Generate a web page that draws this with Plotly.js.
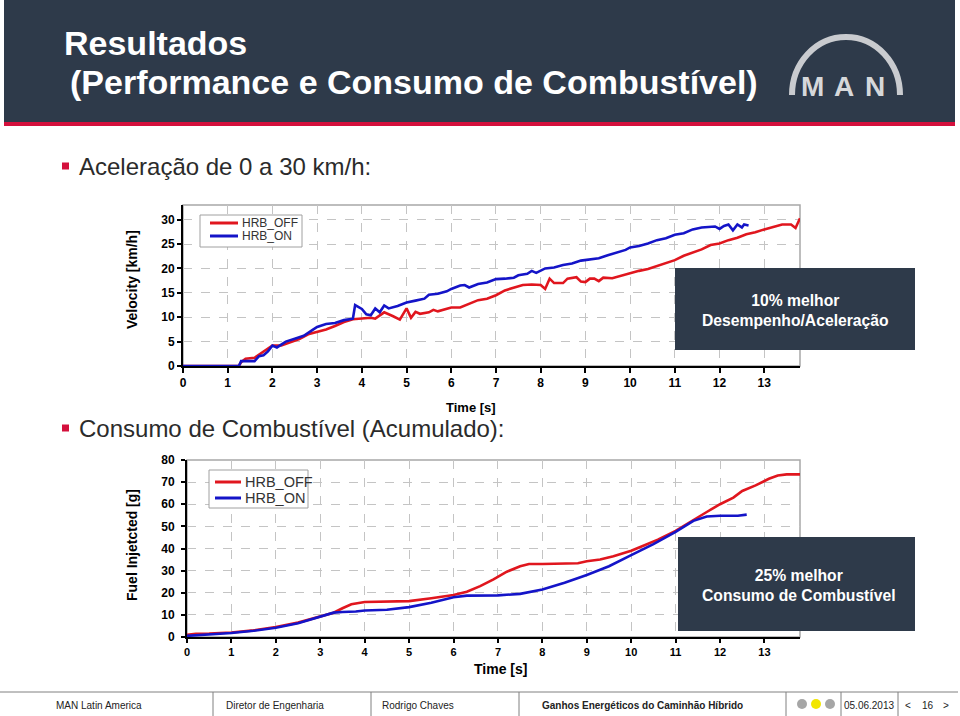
<!DOCTYPE html>
<html>
<head>
<meta charset="utf-8">
<script src="https://cdn.plot.ly/plotly-3.0.1.min.js"></script>
<style>html,body{margin:0;padding:0;background:#fff;}#chart{width:960px;height:716px;}</style>
</head>
<body>
<div id="chart"></div>
<script>
// ---- Data: Velocity (km/h) vs time (s)
const velTimeOff = [0,1.25,1.3,1.4,1.6,1.8,2.0,2.2,2.4,2.6,
  2.8,3.0,3.2,3.4,3.6,3.8,4.0,4.2,4.3,4.5,
  4.7,4.85,5.0,5.1,5.2,5.3,5.5,5.6,5.7,5.9,
  6.0,6.2,6.4,6.6,6.8,7.0,7.2,7.4,7.6,7.8,
  8.0,8.1,8.2,8.3,8.5,8.6,8.8,8.9,9.0,9.1,
  9.2,9.3,9.4,9.6,9.8,10.0,10.2,10.4,10.6,10.8,
  11.0,11.2,11.4,11.6,11.8,12.0,12.2,12.4,12.6,12.8,
  13.0,13.2,13.4,13.6,13.7,13.8];
const velOff = [0,0,0.8,1.5,1.7,2.9,4.2,4.2,4.8,5.5,
  6.5,7.0,7.5,8.2,9.0,9.6,9.8,9.9,9.7,11.0,
  10.2,9.5,11.8,9.9,11.1,10.7,11.0,11.5,11.2,11.8,
  12.0,12.0,12.7,13.5,13.8,14.5,15.5,16.0,16.6,16.7,
  16.6,15.8,17.9,17.0,17.0,17.9,18.2,17.3,17.2,17.9,
  17.9,17.4,18.1,18.0,18.5,19.1,19.5,19.9,20.5,21.2,
  21.7,22.6,23.3,23.9,24.8,25.1,25.8,26.3,27.0,27.4,
  28.0,28.5,29.0,29.0,28.3,30.3];
const velTimeOn = [0,1.25,1.3,1.5,1.6,1.7,1.8,1.9,2.0,2.1,
  2.2,2.3,2.5,2.7,2.9,3.0,3.2,3.4,3.6,3.8,
  3.85,4.0,4.1,4.2,4.3,4.4,4.5,4.6,4.8,5.0,
  5.2,5.4,5.5,5.7,5.9,6.0,6.2,6.3,6.4,6.6,
  6.8,7.0,7.2,7.4,7.5,7.7,7.8,7.9,8.1,8.3,
  8.5,8.7,8.9,9.1,9.3,9.5,9.7,9.9,10.0,10.2,
  10.4,10.6,10.8,11.0,11.2,11.4,11.6,11.8,11.9,12.0,
  12.1,12.2,12.3,12.4,12.5,12.55,12.65];
const velOn = [0,0,1.0,1.0,1.0,2.0,2.2,3.0,4.2,3.8,
  4.4,5.0,5.6,6.2,7.4,8.0,8.6,8.8,9.4,9.7,
  12.5,11.7,10.6,10.4,11.8,11.0,12.4,11.8,12.3,13.0,
  13.4,13.8,14.6,14.8,15.3,15.8,16.5,16.6,16.1,16.8,
  17.1,17.8,17.9,18.1,18.6,18.9,19.5,19.1,20.0,20.2,
  20.7,21.0,21.6,21.8,22.1,22.7,23.2,23.8,24.3,24.6,
  25.1,25.8,26.2,26.9,27.2,28.0,28.4,28.5,28.6,28.1,
  28.7,29.0,27.8,29.0,28.4,29.0,28.8];

// ---- Data: Fuel injected (g) vs time (s)
const fuelTimeOff = [0,0.2,0.5,1.0,1.5,2.0,2.5,3.0,3.3,3.5,3.7,4.0,4.5,5.0,5.5,6.0,6.3,6.6,6.9,7.2,7.5,7.7,8.0,8.5,8.8,9.0,9.3,9.6,10.0,10.3,10.6,11.0,11.4,11.7,12.0,12.3,12.5,12.8,13.1,13.3,13.5,13.8];
const fuelOff = [1.0,1.5,1.6,2.0,3.0,4.5,6.5,9.2,11.0,13.0,14.8,15.8,16.0,16.2,17.5,19.0,20.5,23.0,26.0,29.5,32.0,33.0,33.0,33.0,33.3,34.2,35.0,36.5,39.0,41.5,44.0,48.0,53.0,56.5,60.0,63.0,66.0,68.5,71.5,73.0,73.5,73.5];
const fuelTimeOn = [0,0.5,1.0,1.5,2.0,2.5,3.0,3.3,3.5,3.8,4.0,4.5,5.0,5.5,6.0,6.3,7.0,7.5,8.0,8.5,9.0,9.5,10.0,10.5,11.0,11.4,11.7,12.0,12.4,12.6];
const fuelOn = [0.5,1.0,1.8,2.8,4.2,6.2,9.0,11.0,11.3,11.5,12.0,12.3,13.5,15.5,18.0,18.7,18.8,19.5,21.5,24.5,28.0,32.0,37.0,42.0,47.5,52.5,54.5,54.8,54.8,55.3];

const seriesNames = ["HRB_OFF", "HRB_ON"];
const xTicks = [0,1,2,3,4,5,6,7,8,9,10,11,12,13];
const velTicks = [0,5,10,15,20,25,30];
const fuelTicks = [0,10,20,30,40,50,60,70,80];

// ---- helpers (pixel -> paper)
const W = 960, H = 716;
const px = x => x / W;
const py = y => 1 - y / H;

const RED = "#e0161e", BLUE = "#1414c8", SLATE = "#2e3a4a";
const FONT = "Liberation Sans, Arial, sans-serif";

const traces = [
  {x: velTimeOff, y: velOff, name: seriesNames[0], mode: "lines", line: {color: RED, width: 2.6}, xaxis: "x", yaxis: "y"},
  {x: velTimeOn, y: velOn, name: seriesNames[1], mode: "lines", line: {color: BLUE, width: 2.6}, xaxis: "x", yaxis: "y"},
  {x: fuelTimeOff, y: fuelOff, name: seriesNames[0], mode: "lines", line: {color: RED, width: 2.6}, xaxis: "x2", yaxis: "y2"},
  {x: fuelTimeOn, y: fuelOn, name: seriesNames[1], mode: "lines", line: {color: BLUE, width: 2.6}, xaxis: "x2", yaxis: "y2"}
];

const axisCommon = {
  showline: true, linecolor: "#000", linewidth: 2,
  ticks: "outside", tickcolor: "#000", tickwidth: 2, ticklen: 5,
  showgrid: true, gridcolor: "#c4c4c4", griddash: "dash", gridwidth: 1,
  zeroline: false, fixedrange: true,
  tickfont: {family: FONT, size: 12, color: "#000", weight: "bold"}
};

const shapes = [];
const annotations = [];
function txt(x, y, t, font, extra) {
  annotations.push(Object.assign({xref: "paper", yref: "paper", x: px(x), y: py(y), xanchor: "center", yanchor: "middle", showarrow: false, text: t, font: font}, extra || {}));
}

// header
shapes.push({type: "rect", xref: "paper", yref: "paper", x0: px(4), x1: px(955), y0: py(0), y1: py(122), fillcolor: SLATE, line: {width: 0}, layer: "below"});
shapes.push({type: "rect", xref: "paper", yref: "paper", x0: px(4), x1: px(955), y0: py(122), y1: py(126), fillcolor: "#d4103c", line: {width: 0}, layer: "below"});
txt(62, 43, "Resultados", {family: FONT, size: 34, color: "#fff", weight: "bold"}, {xanchor: "left"});
txt(68, 82, "(Performance e Consumo de Combustível)", {family: FONT, size: 34, color: "#fff", weight: "bold"}, {xanchor: "left"});

// MAN logo (arch + letters)
const arch = "M " + px(792) + "," + py(95) + " C " + px(792) + "," + py(63) + " " + px(816) + "," + py(37) + " " + px(846) + "," + py(37) +
             " C " + px(876) + "," + py(37) + " " + px(900) + "," + py(63) + " " + px(900) + "," + py(95);
shapes.push({type: "path", xref: "paper", yref: "paper", path: arch, line: {color: "#c9cbcf", width: 6}, layer: "above"});
[["M", 812], ["A", 844], ["N", 875]].forEach(([ch, cx]) => {
  txt(cx, 87, "<b>" + ch + "</b>", {family: "Liberation Sans, Arial, sans-serif", size: 28, color: "#d6d8da"});
});

// bullets
[[166, "Aceleração de 0 a 30 km/h:"], [428, "Consumo de Combustível (Acumulado):"]].forEach(([y, t]) => {
  shapes.push({type: "rect", xref: "paper", yref: "paper", x0: px(62), x1: px(69), y0: py(y + 3.5), y1: py(y - 3.5), fillcolor: "#d4103c", line: {width: 0}});
  txt(77, y, t, {family: FONT, size: 24, color: "#2b2b2b"}, {xanchor: "left"});
});

// plot frames (gray box)
shapes.push({type: "rect", xref: "paper", yref: "paper", x0: px(183), x1: px(800), y0: py(366), y1: py(205), line: {color: "#a8a8a8", width: 1.5}, layer: "below"});
shapes.push({type: "rect", xref: "paper", yref: "paper", x0: px(187), x1: px(800), y0: py(637), y1: py(460), line: {color: "#a8a8a8", width: 1.5}, layer: "below"});

// legends (drawn as boxes with line samples, labels from seriesNames)
function legend(x0, y0, x1, y1, rows, lx0, lx1, fs) {
  shapes.push({type: "rect", xref: "paper", yref: "paper", x0: px(x0), x1: px(x1), y0: py(y1), y1: py(y0), fillcolor: "#fff", line: {color: "#a0a0a0", width: 1}});
  [[RED, seriesNames[0]], [BLUE, seriesNames[1]]].forEach(([c, n], i) => {
    shapes.push({type: "line", xref: "paper", yref: "paper", x0: px(lx0), x1: px(lx1), y0: py(rows[i]), y1: py(rows[i]), line: {color: c, width: 3}});
    txt(lx1 + 2, rows[i], n, {family: FONT, size: fs, color: "#333"}, {xanchor: "left"});
  });
}
legend(200, 215, 302, 247, [223, 236], 210, 238, 12);
legend(209, 470, 308, 508, [482, 498], 215, 241, 14.5);

// axis titles
txt(471, 408, "Time [s]", {family: FONT, size: 13, color: "#000", weight: "bold"});
txt(500, 669, "Time [s]", {family: FONT, size: 14, color: "#000", weight: "bold"});
txt(132, 280, "Velocity [km/h]", {family: FONT, size: 14, color: "#000", weight: "bold"}, {textangle: -90});
txt(132, 545, "Fuel Injetcted [g]", {family: FONT, size: 14, color: "#000", weight: "bold"}, {textangle: -90});

// callout boxes
shapes.push({type: "rect", xref: "paper", yref: "paper", x0: px(675), x1: px(915), y0: py(350), y1: py(268), fillcolor: SLATE, line: {width: 0}});
txt(795, 310, "10% melhor<br>Desempenho/Aceleração", {family: FONT, size: 15.7, color: "#fff", weight: "bold"});
shapes.push({type: "rect", xref: "paper", yref: "paper", x0: px(678), x1: px(915), y0: py(631), y1: py(537), fillcolor: SLATE, line: {width: 0}});
txt(799, 585, "25% melhor<br>Consumo de Combustível", {family: FONT, size: 15.7, color: "#fff", weight: "bold"});

// footer
shapes.push({type: "line", xref: "paper", yref: "paper", x0: px(0), x1: px(958), y0: py(692), y1: py(692), line: {color: "#808080", width: 1}});
[213, 371, 519, 786, 841, 898].forEach(x => {
  shapes.push({type: "line", xref: "paper", yref: "paper", x0: px(x), x1: px(x), y0: py(692), y1: py(716), line: {color: "#808080", width: 1}});
});
const footerItems = [[99, "MAN Latin America", false], [275, "Diretor de Engenharia", false], [418, "Rodrigo Chaves", false], [642, "Ganhos Energéticos do Caminhão Híbrido", true], [869, "05.06.2013", false], [908, "<", false], [928, "16", false], [946, ">", false]];
footerItems.forEach(([x, t, b]) => {
  txt(x, 705, t, {family: FONT, size: 10, color: "#222", weight: b ? "bold" : "normal"});
});
[[802, "#a6a6a6"], [816, "#f2e600"], [830, "#a6a6a6"]].forEach(([x, c]) => {
  shapes.push({type: "circle", xref: "paper", yref: "paper", x0: px(x - 5), x1: px(x + 5), y0: py(709), y1: py(699), fillcolor: c, line: {width: 0}});
});

const layout = {
  width: W, height: H,
  margin: {l: 0, r: 0, t: 0, b: 0},
  paper_bgcolor: "#fff", plot_bgcolor: "rgba(0,0,0,0)",
  font: {family: FONT},
  showlegend: false,
  xaxis: Object.assign({}, axisCommon, {domain: [px(183), px(800)], range: [0, 13.8], tickvals: xTicks, anchor: "y"}),
  yaxis: Object.assign({}, axisCommon, {domain: [py(366), py(205)], range: [0, 33], tickvals: velTicks, ticklen: 4, anchor: "x"}),
  xaxis2: Object.assign({}, axisCommon, {domain: [px(187), px(800)], range: [0, 13.8], tickvals: xTicks, ticklen: 4, anchor: "y2", tickfont: {family: FONT, size: 11, color: "#000", weight: "bold"}}),
  yaxis2: Object.assign({}, axisCommon, {domain: [py(637), py(460)], range: [0, 80], tickvals: fuelTicks, ticklen: 4, ticklabelstandoff: 4, anchor: "x2"}),
  shapes: shapes,
  annotations: annotations
};

Plotly.newPlot("chart", traces, layout, {displayModeBar: false, staticPlot: true});
</script>
</body>
</html>
